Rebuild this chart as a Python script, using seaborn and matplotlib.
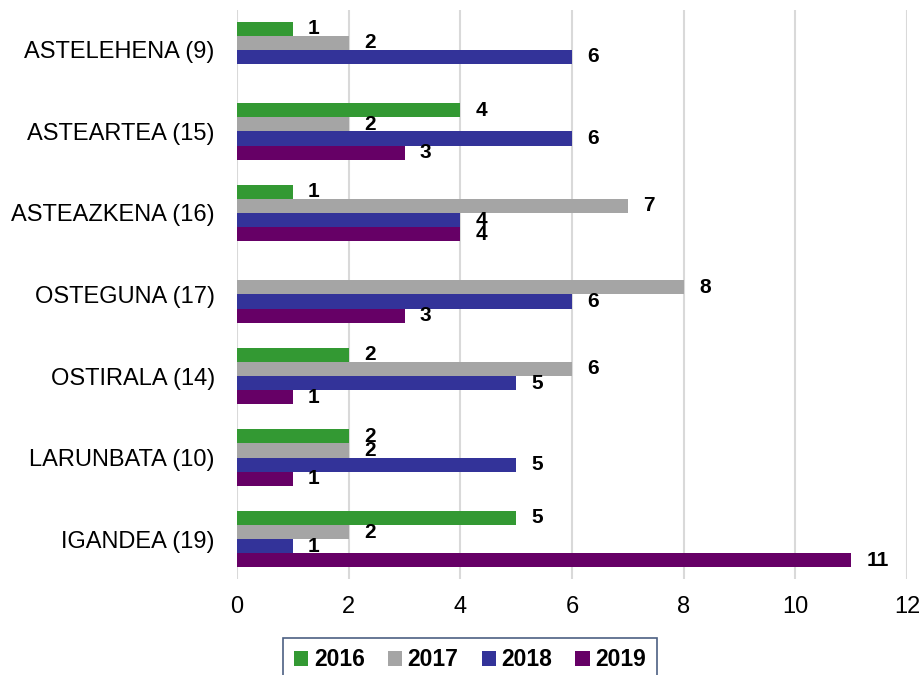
import numpy as np
import pandas as pd
import matplotlib
matplotlib.use("Agg")
from matplotlib import pyplot as plt
from matplotlib.patches import Patch
import seaborn as sns

# data
days = ["ASTELEHENA (9)", "ASTEARTEA (15)", "ASTEAZKENA (16)", "OSTEGUNA (17)",
        "OSTIRALA (14)", "LARUNBATA (10)", "IGANDEA (19)"]
years = ["2016", "2017", "2018", "2019"]
v2016 = [1, 4, 1, np.nan, 2, 2, 5]
v2017 = [2, 2, 7, 8, 6, 2, 2]
v2018 = [6, 6, 4, 6, 5, 5, 1]
v2019 = [np.nan, 3, 4, 3, 1, 1, 11]
colors = ["#339933", "#A5A5A5", "#333399", "#660066"]
xticks = [0, 2, 4, 6, 8, 10, 12]

rows = []
for year, vals in zip(years, [v2016, v2017, v2018, v2019]):
    for day, v in zip(days, vals):
        rows.append({"day": day, "year": year, "value": v})
df = pd.DataFrame(rows)

sns.set_style("white")
plt.rcParams['font.family'] = ['Liberation Sans', 'DejaVu Sans']
plt.rcParams['text.color'] = 'black'
plt.rcParams['xtick.color'] = 'black'
plt.rcParams['ytick.color'] = 'black'

fig = plt.figure(figsize=(9.23, 6.75), dpi=100)
ax = fig.add_axes([237 / 923, 1 - 579 / 675, (907 - 237) / 923, (579 - 10) / 675])

sns.barplot(data=df, y="day", x="value", hue="year", order=days, hue_order=years,
            palette=colors, orient="h", width=0.69, saturation=1, ax=ax,
            legend=False, errorbar=None, linewidth=0)

for cont in ax.containers:
    labels = ["" if np.isnan(w) else f"{w:g}" for w in cont.datavalues]
    ax.bar_label(cont, labels=labels, padding=11, fontsize=15, fontweight="bold")

ax.set_xlim(0, 12)
ax.set_ylim(6.49, -0.49)
ax.set_xticks(xticks)
ax.set_xlabel("")
ax.set_ylabel("")
ax.tick_params(axis="both", labelsize=17, length=0)
ax.tick_params(axis="x", pad=12)
ax.tick_params(axis="y", pad=16)
ax.xaxis.grid(True, color="#D9D9D9", linewidth=1.5)
ax.set_axisbelow(True)
for s in ax.spines.values():
    s.set_visible(False)

# legend at the bottom, its frame runs past the lower edge like the reference
handles = [Patch(facecolor=c, edgecolor="none") for c in colors]
leg = fig.legend(handles, years, loc="upper center", ncol=4,
                 bbox_to_anchor=(470 / 923, 1 - 638 / 675), borderaxespad=0,
                 frameon=True, fancybox=False, handlelength=0.62, handleheight=0.62,
                 handletextpad=0.26, columnspacing=1.0, borderpad=0.45,
                 prop={"weight": "bold", "size": 16.5})
leg.get_frame().set_edgecolor("#203864")
leg.get_frame().set_linewidth(1.2)

fig.savefig("out.png", dpi=100)
